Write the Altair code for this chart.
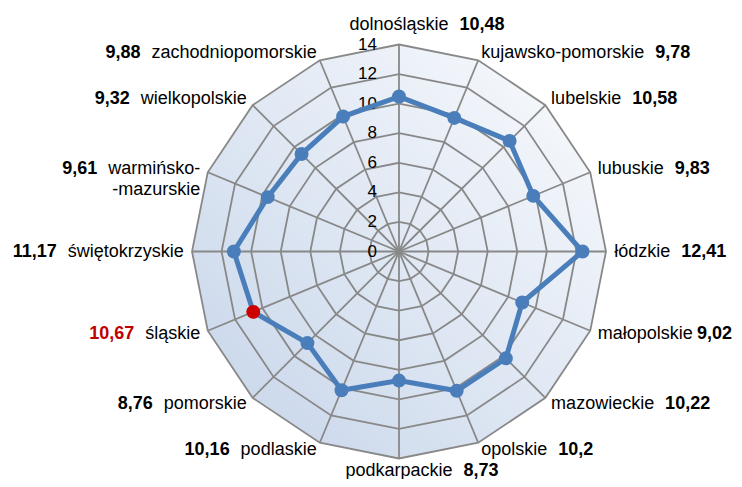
import altair as alt
import pandas as pd

# ---- data ----
regions = ["dolnośląskie", "kujawsko-pomorskie", "lubelskie", "lubuskie", "łódzkie",
           "małopolskie", "mazowieckie", "opolskie", "podkarpackie", "podlaskie",
           "pomorskie", "śląskie", "świętokrzyskie", "warmińsko-mazurskie",
           "wielkopolskie", "zachodniopomorskie"]
labels = ["dolnośląskie", "kujawsko-pomorskie", "lubelskie", "lubuskie", "łódzkie",
          "małopolskie", "mazowieckie", "opolskie", "podkarpackie", "podlaskie",
          "pomorskie", "śląskie", "świętokrzyskie", "warmińsko-\n-mazurskie",
          "wielkopolskie", "zachodniopomorskie"]
values = [10.48, 9.78, 10.58, 9.83, 12.41, 9.02, 10.22, 10.2, 8.73, 10.16,
          8.76, 10.67, 11.17, 9.61, 9.32, 9.88]
ticks = [0, 2, 4, 6, 8, 10, 12, 14]
highlight = "śląskie"

# ---- layout helpers ----
N = len(regions)
RMAX = 14
K = 207 / RMAX                  # pixels per unit
W, H = 726, 471
CX, CY = 391, 243.5             # centre inside the canvas
FS_NAME, FS_TICK = 18, 17
GAP = 11

AW = {"a": 556, "b": 556, "c": 500, "d": 556, "e": 556, "f": 278, "g": 556, "h": 556,
      "i": 222, "j": 222, "k": 500, "l": 222, "m": 833, "n": 556, "o": 556, "p": 556,
      "q": 556, "r": 333, "s": 500, "t": 278, "u": 556, "v": 500, "w": 722, "x": 500,
      "y": 500, "z": 500, "-": 333, " ": 278, "ś": 500, "ą": 556, "ę": 556, "ł": 222,
      "ń": 556, "ó": 556, "ż": 500, "ź": 500, "ć": 500, ",": 278}


def text_w(s, size):
    return max(sum(AW.get(c, 556) for c in line) for line in s.split("\n")) * size / 1000


def side_of(i):
    if i == 0:
        return "top"
    if i == N // 2:
        return "bottom"
    return "right" if i < N // 2 else "left"


df = pd.DataFrame({
    "region": regions,
    "label": labels,
    "value": values,
    "vlabel": [str(v).replace(".", ",") for v in values],
    "idx": list(range(N)),
})
df["side"] = [side_of(i) for i in range(N)]
df["w"] = [text_w(s, FS_NAME) for s in labels]
df["vw"] = [text_w(s, FS_NAME) for s in df["vlabel"]]

grid = pd.DataFrame([(lv, i) for lv in ticks[1:] for i in range(N)], columns=["level", "idx"])
spokes = pd.DataFrame({"idx": list(range(N)), "level": [RMAX] * N})
tick_df = pd.DataFrame({"t": ticks})

xs = alt.Scale(domain=[-CX / K, (W - CX) / K], nice=False, zero=False)
ys = alt.Scale(domain=[-(H - CY) / K, CY / K], nice=False, zero=False)
XLIM = (W - 2 - CX) / K
ANG = f"datum.idx * 2 * PI / {N}"

base_grid = alt.Chart(grid).transform_calculate(
    ang=ANG
).transform_calculate(
    gx="datum.level * sin(datum.ang)", gy="datum.level * cos(datum.ang)"
)

grad = alt.Gradient(
    gradient="linear",
    stops=[alt.GradientStop(color="#fbfcfe", offset=0),
           alt.GradientStop(color="#c5d4e9", offset=1)],
    x1=1, y1=0, x2=0, y2=1,
)

bg = base_grid.transform_filter(f"datum.level == {RMAX}").mark_line(
    fill=grad, strokeOpacity=0, interpolate="linear-closed"
).encode(
    x=alt.X("gx:Q", scale=xs, axis=None),
    y=alt.Y("gy:Q", scale=ys, axis=None),
    order="idx:Q",
)

rings = base_grid.mark_line(
    color="#888888", strokeWidth=1.8, interpolate="linear-closed"
).encode(
    x=alt.X("gx:Q", scale=xs, axis=None),
    y=alt.Y("gy:Q", scale=ys, axis=None),
    detail="level:N",
    order="idx:Q",
)

spoke = alt.Chart(spokes).transform_calculate(
    ang=ANG
).transform_calculate(
    sx="datum.level * sin(datum.ang)", sy="datum.level * cos(datum.ang)", z="0"
).mark_rule(color="#888888", strokeWidth=1.8).encode(
    x=alt.X("z:Q", scale=xs, axis=None),
    y=alt.Y("z:Q", scale=ys, axis=None),
    x2="sx:Q",
    y2="sy:Q",
)

tick_text = alt.Chart(tick_df).transform_calculate(z="0").mark_text(
    align="right", baseline="middle", dx=-22, fontSize=FS_TICK,
    font="Liberation Sans", color="#000000"
).encode(
    x=alt.X("z:Q", scale=xs, axis=None),
    y=alt.Y("t:Q", scale=ys, axis=None),
    text="t:Q",
)

base = alt.Chart(df).transform_calculate(
    ang=ANG
).transform_calculate(
    px="datum.value * sin(datum.ang)", py="datum.value * cos(datum.ang)"
)

series_line = base.mark_line(
    color="#4a7ebb", strokeWidth=5, interpolate="linear-closed"
).encode(
    x=alt.X("px:Q", scale=xs, axis=None),
    y=alt.Y("py:Q", scale=ys, axis=None),
    order="idx:Q",
)

points = base.mark_circle(size=195, opacity=1).encode(
    x=alt.X("px:Q", scale=xs, axis=None),
    y=alt.Y("py:Q", scale=ys, axis=None),
    color=alt.condition(alt.datum.region == highlight, alt.value("#cc0000"), alt.value("#4a7ebb")),
)

R_SIDE, R_TOP, R_BOT = 14.55, 14.98, 15.2
lab = alt.Chart(df).transform_calculate(
    ang=ANG
).transform_calculate(
    R=f"datum.side == 'top' ? {R_TOP} : datum.side == 'bottom' ? {R_BOT} : {R_SIDE}"
).transform_calculate(
    lx="datum.R * sin(datum.ang)", ly="datum.R * cos(datum.ang)"
).transform_calculate(
    # right edge of the bold value label
    vx=(f"datum.side == 'left' ? datum.lx - (datum.w + {GAP}) / {K} : "
        f"datum.side == 'right' ? min({XLIM}, datum.lx + (datum.w + {GAP} + datum.vw) / {K}) : "
        f"min({XLIM}, datum.lx + (datum.w / 2 + {GAP} + datum.vw) / {K})")
)

cfg = {
    "top": dict(align="center", baseline="alphabetic"),
    "bottom": dict(align="center", baseline="alphabetic"),
    "right": dict(align="left", baseline="middle"),
    "left": dict(align="right", baseline="middle"),
}

name_layers, value_layers = [], []
for side, c in cfg.items():
    sub = lab.transform_filter(f"datum.side == '{side}'")
    name_layers.append(
        sub.mark_text(fontSize=FS_NAME, font="Liberation Sans", color="#000000",
                      lineBreak="\n", lineHeight=21, **c).encode(
            x=alt.X("lx:Q", scale=xs, axis=None),
            y=alt.Y("ly:Q", scale=ys, axis=None),
            text="label:N",
        )
    )
    value_layers.append(
        sub.mark_text(fontSize=FS_NAME, font="Liberation Sans", fontWeight="bold",
                      align="right", baseline=c["baseline"]).encode(
            x=alt.X("vx:Q", scale=xs, axis=None),
            y=alt.Y("ly:Q", scale=ys, axis=None),
            text="vlabel:N",
            color=alt.condition(alt.datum.region == highlight, alt.value("#c00000"), alt.value("#000000")),
        )
    )

chart = alt.layer(
    bg, rings, spoke, tick_text, series_line, points, *name_layers, *value_layers
).properties(
    width=W, height=H, padding=0, autosize=alt.AutoSizeParams(type="none"),
    background="#ffffff",
).configure_view(stroke=None)

chart.save("out.html", embed_options={"renderer": "svg", "actions": False})
